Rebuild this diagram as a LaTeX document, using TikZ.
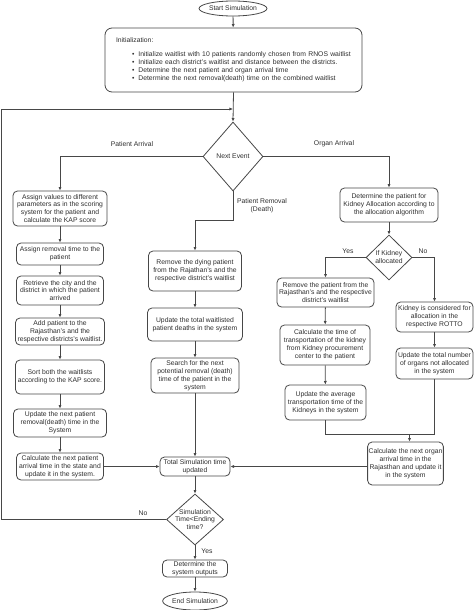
\documentclass[tikz,border=0pt]{standalone}
\usepackage{fontspec}
\setmainfont{Liberation Sans}
\usepackage{xcolor}
\usepackage{tikz}
\usetikzlibrary{shapes.geometric, arrows.meta, positioning, calc}

\definecolor{linegray}{HTML}{474747}
\definecolor{textgray}{HTML}{2E2E2E}

\begin{document}
\begin{tikzpicture}[
    x=1pt, y=-1pt,
    font=\fontsize{6.8}{7.9}\selectfont,
    >={Latex[length=3.6pt,width=3.2pt]},
    % Node styles
    term/.style={draw=linegray, ellipse, line width=0.8pt, inner sep=0pt, text=textgray, align=center},
    procbox/.style={draw=linegray, rounded corners=4.5pt, align=center, inner sep=1pt, line width=0.8pt, text=textgray},
    initbox/.style={draw=linegray, rounded corners=7pt, align=left, inner xsep=11pt, line width=0.8pt, text=textgray},
    decision/.style={draw=linegray, diamond, align=center, inner sep=-2pt, line width=0.8pt, text=textgray},
    lbl/.style={text=textgray, align=center, inner sep=0pt},
    arrow/.style={->, line width=0.8pt, color=linegray},
    plain/.style={line width=0.8pt, color=linegray}
]
\useasboundingbox (0,0) rectangle (474,610);

% ========== START / INIT ==========
\node[term, minimum width=63, minimum height=15] (start) at (233,8.5) {Start Simulation};
\node[initbox, text width=235, minimum height=64] (init) at (233.5,60) {Initialization:\\[6pt]
  \hspace*{16pt}\textbullet\hspace{4pt}Initialize waitlist with 10 patients randomly chosen from RNOS waitlist\\
  \hspace*{16pt}\textbullet\hspace{4pt}Initialize each district's waitlist and distance between the districts.\\
  \hspace*{16pt}\textbullet\hspace{4pt}Determine the next patient and organ arrival time\\
  \hspace*{16pt}\textbullet\hspace{4pt}Determine the next removal(death) time on the combined waitlist};

\node[decision, minimum width=60, minimum height=69, inner sep=0pt] (nextev) at (233,156.5) {Next Event};
\coordinate (loopin) at (233,109);
\coordinate (loopL) at (1.5,109);

% Branch labels
\node[lbl] (lblpa) at (132,144) {Patient Arrival};
\node[lbl] (lbloa) at (334,144) {Organ Arrival};
\node[lbl] (lblpr) at (262,206) {Patient Removal\\(Death)};

% ========== PATIENT ARRIVAL ==========
\node[procbox, minimum width=94, minimum height=35] (asg) at (60,208.5) {Assign values to different\\parameters as in the scoring\\system for the patient and\\calculate the KAP score};
\node[procbox, minimum width=87, minimum height=22] (rem) at (60,254) {Assign removal time to the\\patient};
\node[procbox, minimum width=87, minimum height=29] (city) at (60,290.5) {Retrieve the city and the\\district in which the patient\\arrived};
\node[procbox, minimum width=89, minimum height=27] (addp) at (60,331.5) {Add patient to the\\Rajasthan's and the\\respective districts's waitlist.};
\node[procbox, minimum width=89, minimum height=34] (sort) at (60,377) {Sort both the waitlists\\according to the KAP score.};
\node[procbox, minimum width=93, minimum height=28] (updrem) at (60,423) {Update the next patient\\removal(death) time in the\\System};
\node[procbox, minimum width=87, minimum height=27] (nextpa) at (60,466.5) {Calculate the next patient\\arrival time in the state and\\update it in the system.};

% ========== PATIENT REMOVAL ==========
\node[procbox, minimum width=93, minimum height=40] (dying) at (195,271) {Remove the dying patient\\from the Rajathan's and the\\respective district's waitlist};
\node[procbox, minimum width=95, minimum height=33] (deaths) at (195,324.5) {Update the total waitlisted\\patient deaths in the system};
\node[procbox, minimum width=88, minimum height=35] (search) at (195,375.5) {Search for the next\\potential removal (death)\\time of the patient in the\\system};

% ========== ORGAN ARRIVAL ==========
\node[procbox, minimum width=98, minimum height=34] (detpat) at (389,205) {Determine the patient for\\Kidney Allocation according to\\the allocation algorithm};
\node[decision, minimum width=46, minimum height=45] (kid) at (389,257.5) {If Kidney\\allocated};
\node[lbl] (lblyes) at (348,251) {Yes};
\node[lbl] (lblno) at (423,251) {No};

\node[procbox, minimum width=97, minimum height=29] (rmpat) at (325.5,292.5) {Remove the patient from the\\Rajasthan's and the respective\\district's waitlist};
\node[procbox, minimum width=90, minimum height=40] (trans) at (325,345) {Calculate the time of\\transportation of the kidney\\from Kidney procurement\\center to the patient};
\node[procbox, minimum width=81, minimum height=35] (avgt) at (325.5,402.5) {Update the average\\transportation time of the\\Kidneys in the system};

\node[procbox, minimum width=77, minimum height=30] (rotto) at (434.5,317) {Kidney is considered for\\allocation in the\\respective ROTTO};
\node[procbox, minimum width=77, minimum height=31] (notal) at (434.5,363.5) {Update the total number\\of organs not allocated\\in the system};

\coordinate (merge) at (409.5,434);
\node[procbox, minimum width=73, minimum height=43] (nextoa) at (405.5,463.5) {Calculate the next organ\\arrival time in the\\Rajasthan and update it\\in the system};

% ========== END ==========
\node[procbox, minimum width=70, minimum height=19] (total) at (195,466.5) {Total Simulation time\\updated};
\node[decision, minimum width=57, minimum height=51, inner sep=-3.5pt] (simd) at (195,519.5) {Simulation\\Time<Ending\\time?};
\node[lbl] (lblno2) at (143,513) {No};
\node[lbl] (lblyes2) at (207,551) {Yes};
\node[procbox, minimum width=65, minimum height=17] (outp) at (195,568.5) {Determine the\\system outputs};
\node[term, minimum width=64, minimum height=18] (endsim) at (195,601) {End Simulation};

% ========== ARROWS ==========
\draw[arrow] (start) -- (init);
\draw[arrow] (init.south) -- (nextev.north);
\draw[arrow] (simd.west) -| (loopL) -- (loopin);

% Next event branches
\draw[arrow] (nextev.west) -| (asg.north);
\draw[arrow] (nextev.east) -| (detpat.north);
\draw[arrow] (nextev.south) -- ++(0,29) -| (dying.north);

% Patient arrival chain
\draw[arrow] (asg) -- (rem);
\draw[arrow] (rem) -- (city);
\draw[arrow] (city) -- (addp);
\draw[arrow] (addp) -- (sort);
\draw[arrow] (sort) -- (updrem);
\draw[arrow] (updrem) -- (nextpa);
\draw[arrow] (nextpa.east) -- (total.west);

% Patient removal chain
\draw[arrow] (dying) -- (deaths);
\draw[arrow] (deaths) -- (search);
\draw[arrow] (search) -- (total);

% Organ arrival chain
\draw[arrow] (detpat) -- (kid);
\draw[arrow] (kid.west) -| (rmpat.north);
\draw[arrow] (kid.east) -| (rotto.north);
\draw[arrow] (rmpat) -- (trans);
\draw[arrow] (trans) -- (avgt);
\draw[arrow] (rotto) -- (notal);
\draw[plain] (avgt.south) |- (merge);
\draw[plain] (notal.south) |- (merge);
\draw[arrow] (merge) -- (merge |- nextoa.north);
\draw[arrow] (nextoa.west |- total.east) -- (total.east);

% Simulation check
\draw[arrow] (total) -- (simd);
\draw[arrow] (simd) -- (outp);
\draw[arrow] (outp) -- (endsim);

\end{tikzpicture}
\end{document}
